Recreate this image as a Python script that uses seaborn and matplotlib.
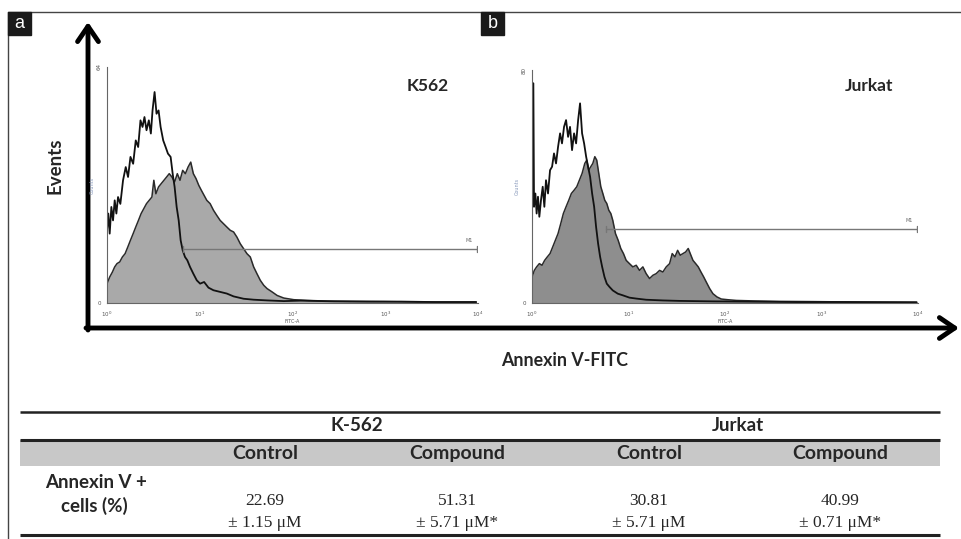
import numpy as np
import matplotlib
matplotlib.use("Agg")
import matplotlib.pyplot as plt
import seaborn as sns
from matplotlib.patches import Rectangle

sns.set_style("white")
plt.rcParams['font.family'] = ['DejaVu Sans']

# ---------------- data ----------------
panel_titles = ["K562", "Jurkat"]

# log10(FITC-A) positions and counts (% of axis top)
ctrl_a_log = [0, .014, .029, .047, .065, .083, .101, .119, .144, .173, .202, .227, .253, .282, .310, .336,
              .361, .383, .404, .426, .451, .473, .491, .513, .534, .556, .578, .606, .632, .657, .686,
              .708, .729, .751, .773, .794, .816, .841, .866, .895, .931, .968, 1.004, 1.047, 1.094,
              1.148, 1.220, 1.292, 1.365, 1.473, 1.581, 1.726, 1.906, 2.087, 2.448, 2.809, 3.170,
              3.531, 3.98]
ctrl_a_cnt = [30.8, 37.9, 29.4, 40.7, 35, 43.5, 37.9, 44.9, 42, 52, 57.6, 53.4, 61.9, 59, 68.9, 66.1,
              77.4, 74.6, 78.8, 73.2, 77.4, 71.8, 81.6, 89.4, 80.2, 81.6, 74.6, 68.9, 66.1, 63.3, 61.9,
              54.8, 49.2, 40.7, 35, 26.6, 22.3, 19.5, 18.1, 15.3, 12.4, 9.6, 8.2, 8.9, 6.5,
              5.4, 4.7, 4.0, 2.8, 1.8, 1.4, 1.1, 0.8, 1.0, 0.7, 0.6, 0.6,
              0.4, 0.4]

comp_a_log = [0, .029, .058, .083, .108, .137, .166, .195, .224, .253, .282, .310, .339, .368, .397,
              .426, .455, .484, .505, .527, .556, .585, .614, .643, .671, .700, .729, .758, .787, .816,
              .845, .874, .903, .931, .960, .989, 1.018, 1.047, 1.076, 1.112, 1.148, 1.184, 1.220,
              1.256, 1.292, 1.329, 1.365, 1.401, 1.437, 1.473, 1.509, 1.545, 1.581, 1.617, 1.653,
              1.690, 1.726, 1.780, 1.834, 1.906, 2.014, 2.159, 2.375, 2.628, 2.989, 3.350, 3.98]
comp_a_cnt = [8.2, 11, 13.1, 15.3, 16.7, 17.4, 19.5, 20.9, 23.7, 26.6, 29.4, 32.2, 35, 37.9, 40,
              42.1, 43.5, 44.9, 52, 46.3, 49.2, 50.6, 52, 53.4, 54.8, 53.4, 51.3, 54.8, 52, 56.2,
              54.8, 57.6, 59.7, 54.8, 52.7, 49.9, 47.7, 45.6, 43.5, 42.1, 39.3, 37.1, 35,
              33.6, 32.2, 30.8, 30.1, 27.9, 25.1, 23, 20.9, 19.5, 15.3, 12.4, 9.6,
              7.5, 6.1, 4.7, 3.2, 2.1, 1.4, 1.1, 0.8, 0.7, 0.6, 0.4, 0.4]

ctrl_b_log = [0, .003, .014, .021, .035, .048, .062, .076, .093, .111, .128, .145, .166, .187, .208,
              .228, .249, .270, .291, .311, .332, .353, .374, .394, .415, .436, .457, .478, .498, .519,
              .540, .561, .581, .602, .623, .644, .664, .685, .706, .727, .751, .775, .803, .837, .889,
              .941, 1.010, 1.080, 1.183, 1.356, 1.529, 1.875, 2.221, 2.740, 3.260, 3.986]
ctrl_b_cnt = [0, 94.3, 94.3, 41.3, 47, 38.4, 45.6, 37, 44.1, 49.9, 41.3, 52.7, 47, 57, 58.5,
              64.2, 59.9, 67, 72.8, 68.5, 75.6, 78.5, 71.3, 75.6, 65.6, 72.8, 68.5, 78.5, 85.7, 72.8,
              68.5, 62.8, 58.5, 54.2, 47, 41.3, 32.7, 25.5, 19.8, 15.5, 11.2, 8.3, 6.9, 5.4, 4.0,
              3.3, 2.3, 1.9, 1.4, 1.1, 0.9, 0.7, 0.6, 0.4, 0.4, 0.3]

comp_b_log = [0, .024, .048, .076, .104, .131, .159, .187, .215, .242, .270, .298, .325, .353, .381,
              .408, .436, .464, .491, .519, .547, .567, .588, .609, .630, .651, .671, .692, .713, .734,
              .754, .775, .796, .817, .837, .865, .893, .920, .948, .976, 1.010, 1.045, 1.080, 1.114,
              1.149, 1.183, 1.218, 1.253, 1.287, 1.322, 1.356, 1.391, 1.426, 1.453, 1.481, 1.509,
              1.536, 1.564, 1.592, 1.619, 1.640, 1.668, 1.696, 1.723, 1.751, 1.779, 1.806, 1.841,
              1.875, 1.917, 1.962, 2.031, 2.118, 2.291, 2.567, 2.913, 3.433, 3.986]
comp_b_cnt = [11.2, 14, 15.5, 16.9, 16.2, 18.3, 19.8, 21.2, 24.1, 26.9, 29.8, 34.1, 38.4, 41.3, 44.1,
              47, 48.4, 49.9, 52.7, 55.6, 59.9, 61.3, 57, 58.5, 59.9, 62.8, 61.3, 55.6, 49.9, 47,
              44.1, 42.7, 39.8, 38.4, 35.5, 29.8, 26.9, 23.4, 21.2, 18.3, 16.9, 15.5, 16.2, 14,
              15.5, 12.6, 10.5, 11.9, 12.6, 14, 13.3, 15.5, 16.9, 21.2, 19.8, 22.6,
              20.5, 21.2, 21.9, 23.4, 21.2, 18.3, 16.9, 15.5, 13.3, 11.2, 9.0, 6.2,
              4.0, 2.6, 1.7, 1.4, 1.1, 0.9, 0.7, 0.6, 0.4, 0.3]

# M1 gate: start (log10), end (log10), level
m1_a = [0.82, 3.99, 23]
m1_b = [0.77, 3.99, 31.8]
ytop_labels = ["64", "80"]

# table
cell_lines = ["K-562", "Jurkat"]
conditions = ["Control", "Compound", "Control", "Compound"]
means = ["22.69", "51.31", "30.81", "40.99"]
errors = ["± 1.15 μM", "± 5.71 μM*", "± 5.71 μM", "± 0.71 μM*"]
row_label = ["Annexin V +", "cells (%)"]

# ---------------- figure ----------------
W, H = 962, 539
fig = plt.figure(figsize=(W / 100, H / 100), dpi=100)
bg = fig.add_axes([0, 0, 1, 1])
bg.set_xlim(0, W)
bg.set_ylim(H, 0)
bg.axis("off")

BOLD = ['Lato', 'DejaVu Sans']
SERIF = ['Liberation Serif', 'DejaVu Serif']

# frame
bg.plot([8, W], [12, 12], color="#444444", lw=1)
bg.plot([8, 8], [12, H], color="#444444", lw=1)

# panel letters
for x0, letter in [(8, "a"), (481, "b")]:
    bg.add_patch(Rectangle((x0, 12), 23, 23, color="#1a1a1a", zorder=3))
    bg.text(x0 + 11.5, 24, letter, color="white", ha="center", va="center",
            fontsize=13, family=['Liberation Sans', 'DejaVu Sans'], zorder=4)

# big arrows
bg.annotate("", xy=(88, 22), xytext=(88, 330),
            arrowprops=dict(arrowstyle="->,head_length=1.1,head_width=0.75", lw=3.5,
                            color="black", shrinkA=0, shrinkB=0))
bg.annotate("", xy=(959, 328), xytext=(86, 328),
            arrowprops=dict(arrowstyle="->,head_length=1.1,head_width=0.75", lw=3.5,
                            color="black", shrinkA=0, shrinkB=0))
bg.text(55, 166, "Events", rotation=90, ha="center", va="center", fontsize=13.5,
        fontweight="bold", family=BOLD)
bg.text(565, 360, "Annexin V-FITC", ha="center", va="center", fontsize=12.8,
        fontweight="bold", family=BOLD)


def hist_panel(rect, ctrl_log, ctrl_cnt, comp_log, comp_cnt, fill, m1, title, title_xy, toplab):
    l, r, b, t = rect
    ax = fig.add_axes([l / W, (H - b) / H, (r - l) / W, (b - t) / H])
    ax.set_facecolor("none")
    xc = 10 ** np.array(comp_log)
    ax.fill_between(xc, comp_cnt, 0, color=fill, lw=0)
    sns.lineplot(x=xc, y=comp_cnt, ax=ax, color="#2a2a2a", lw=1.1, estimator=None, sort=False)
    sns.lineplot(x=10 ** np.array(ctrl_log), y=ctrl_cnt, ax=ax, color="#111111", lw=1.3,
                 estimator=None, sort=False)
    # M1 gate
    x1, x2, lev = 10 ** m1[0], 10 ** m1[1], m1[2]
    ax.plot([x1, x2], [lev, lev], color="#777777", lw=1)
    ax.plot([x1, x1], [lev - 1.2, lev + 1.2], color="#777777", lw=1)
    ax.plot([x2, x2], [lev - 1.2, lev + 1.2], color="#777777", lw=1)
    ax.text(x2 * 0.82, lev + 2.5, "M1", fontsize=3.5, color="#666666", ha="center", va="bottom")
    ax.set_xscale("log")
    ax.set_xlim(1, 1e4)
    ax.set_ylim(0, 100)
    for s in ["top", "right"]:
        ax.spines[s].set_visible(False)
    for s in ["left", "bottom"]:
        ax.spines[s].set_color("#666666")
        ax.spines[s].set_linewidth(0.8)
    ax.set_xticks([1, 10, 100, 1000, 10000])
    ax.set_xticklabels(["$10^0$", "$10^1$", "$10^2$", "$10^3$", "$10^4$"])
    ax.xaxis.set_minor_locator(matplotlib.ticker.LogLocator(base=10, subs=np.arange(2, 10)))
    ax.xaxis.set_minor_formatter(matplotlib.ticker.NullFormatter())
    ax.tick_params(axis="x", which="major", length=3, width=0.7, color="#666666",
                   labelsize=4, labelcolor="#555555", pad=1.5)
    ax.tick_params(axis="x", which="minor", length=1.5, width=0.6, color="#777777")
    ax.set_yticks([0, 25, 50, 75, 100])
    ax.set_yticklabels(["0", "", "", "", toplab], fontsize=4, color="#555555")
    for lab in ax.get_yticklabels()[-1:]:
        lab.set_rotation(90)
        lab.set_va("center")
    ax.tick_params(axis="y", length=2.5, width=0.7, color="#666666", pad=1.5)
    ax.set_xlabel("FITC-A", fontsize=3.5, color="#555555", labelpad=0.5)
    ax.set_ylabel("Counts", fontsize=3.5, color="#8899bb", labelpad=1)
    ax.grid(False)
    bg.text(title_xy[0], title_xy[1], title, ha="center", va="center", fontsize=12.5,
            fontweight="bold", family=BOLD)
    return ax


hist_panel((107, 478, 303, 67), ctrl_a_log, ctrl_a_cnt, comp_a_log, comp_a_cnt, "#a9a9a9", m1_a,
           panel_titles[0], (428, 86), ytop_labels[0])
hist_panel((532, 918, 303, 70), ctrl_b_log, ctrl_b_cnt, comp_b_log, comp_b_cnt, "#8e8e8e", m1_b,
           panel_titles[1], (869, 86), ytop_labels[1])

# ---------------- table ----------------
tx0, tx1 = 20, 940
bg.add_patch(Rectangle((tx0, 440), tx1 - tx0, 26, color="#c8c8c8", lw=0, zorder=1))
bg.plot([tx0, tx1], [412, 412], color="#222222", lw=1.8, solid_capstyle="butt")
bg.plot([tx0, tx1], [439.5, 439.5], color="#222222", lw=2.2, solid_capstyle="butt", zorder=2)
bg.plot([tx0, tx1], [535, 535], color="#222222", lw=2.2, solid_capstyle="butt")

group_x = [357, 738]
col_x = [265, 457, 649, 840]
for gx, name in zip(group_x, cell_lines):
    bg.text(gx, 431, name, ha="center", va="baseline", fontsize=13.5, fontweight="bold", family=BOLD)
for cx, cond in zip(col_x, conditions):
    bg.text(cx, 459, cond, ha="center", va="baseline", fontsize=14, fontweight="bold",
            family=BOLD, zorder=3)
bg.text(96, 488, row_label[0], ha="center", va="baseline", fontsize=13.5, fontweight="bold", family=BOLD)
bg.text(94, 512, row_label[1], ha="center", va="baseline", fontsize=13.5, fontweight="bold", family=BOLD)
for cx, m, e in zip(col_x, means, errors):
    bg.text(cx, 505, m, ha="center", va="baseline", fontsize=12.5, family=SERIF)
    bg.text(cx, 527, e, ha="center", va="baseline", fontsize=12.5, family=SERIF)

fig.savefig("out.png", dpi=100)
